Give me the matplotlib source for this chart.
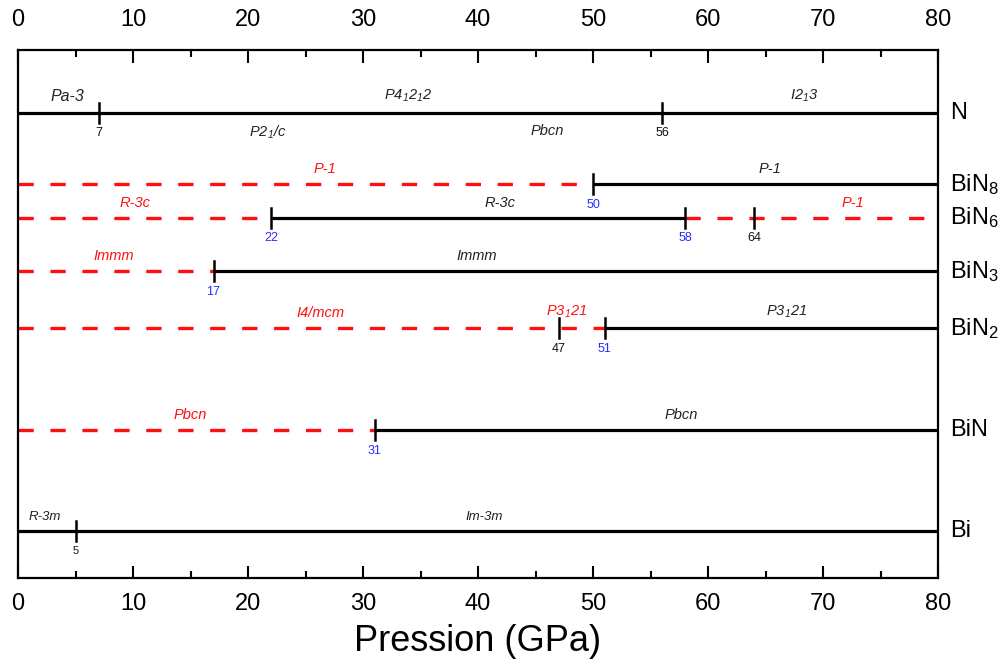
import matplotlib
matplotlib.use("Agg")
import matplotlib.pyplot as plt
from matplotlib.ticker import MultipleLocator

plt.rcParams['font.family'] = ['Liberation Sans', 'DejaVu Sans']
plt.rcParams['mathtext.fontset'] = 'custom'
plt.rcParams['mathtext.rm'] = 'Liberation Sans:italic'
plt.rcParams['mathtext.it'] = 'Liberation Sans:italic'
plt.rcParams['mathtext.sf'] = 'Liberation Sans'
plt.rcParams['lines.scale_dashes'] = False

# ---- data ----
compounds = ['N', r'BiN$_{\mathsf{8}}$', r'BiN$_{\mathsf{6}}$', r'BiN$_{\mathsf{3}}$',
             r'BiN$_{\mathsf{2}}$', 'BiN', 'Bi']
row_pos = [1.19, 2.54, 3.18, 4.19, 5.27, 7.20, 9.11]

# segments: row index, start, end, style ('d' dashed red, 's' solid black)
seg_row = [0, 1, 1, 2, 2, 2, 3, 3, 4, 4, 5, 5, 6]
seg_start = [0, 0, 50, 0, 22, 58, 0, 17, 0, 51, 0, 31, 0]
seg_end = [80, 50, 80, 22, 58, 80, 17, 80, 51, 80, 31, 80, 80]
seg_style = ['s', 'd', 's', 'd', 's', 'd', 'd', 's', 'd', 's', 'd', 's', 's']

# transition marks: row, pressure, label colour
tr_row = [0, 0, 1, 2, 2, 2, 3, 4, 4, 5, 6]
tr_p = [7, 56, 50, 22, 58, 64, 17, 47, 51, 31, 5]
tr_col = ['k', 'k', 'b', 'b', 'b', 'k', 'b', 'k', 'b', 'b', 'k']

# phase labels: row, x, text, colour, above(True)/below(False)
ph_row = [0, 0, 0, 0, 0, 1, 1, 2, 2, 2, 3, 3, 4, 4, 4, 5, 5, 6, 6]
ph_x = [4.3, 33.9, 68.4, 21.7, 46.0, 26.7, 65.4, 10.2, 41.9, 72.6, 8.3, 39.9,
        26.3, 47.7, 66.8, 15.0, 57.7, 2.3, 40.5]
ph_txt = ['Pa-3', r'$P4_12_12$', r'$I2_13$', r'$P2_1/c$', 'Pbcn',
          'P-1', 'P-1', 'R-3c', 'R-3c', 'P-1', 'Immm', 'Immm',
          'I4/mcm', r'$P3_121$', r'$P3_121$', 'Pbcn', 'Pbcn', 'R-3m', 'Im-3m']
ph_col = ['k', 'k', 'k', 'k', 'k', 'r', 'k', 'r', 'k', 'r', 'r', 'k',
          'r', 'r', 'k', 'r', 'k', 'k', 'k']
ph_above = [True, True, True, False, False, True, True, True, True, True, True, True,
            True, True, True, True, True, True, True]

xticks = [0, 10, 20, 30, 40, 50, 60, 70, 80]

RED = '#ff1010'
BLUE = '#2b2bff'

fig = plt.figure(figsize=(10.08, 6.66), dpi=100)
ax = fig.add_axes([18/1008, 88/666, 920/1008, 528/666])
ax.set_xlim(0, 80)
ax.set_ylim(10, 0)

for r, a, b, s in zip(seg_row, seg_start, seg_end, seg_style):
    y = row_pos[r]
    if s == 'd':
        ax.plot([a, b], [y, y], color=RED, lw=2.4, dashes=(11, 12),
                dash_capstyle='butt', zorder=2)
    else:
        ax.plot([a, b], [y, y], color='k', lw=2.3, solid_capstyle='butt', zorder=3)

for r, p, c in zip(tr_row, tr_p, tr_col):
    y = row_pos[r]
    ax.plot([p, p], [y - 0.19, y + 0.19], color='k', lw=1.8, zorder=4)
    ax.annotate(str(p), (p, y), xytext=(0, -10.5), textcoords='offset points',
                ha='center', va='top', fontsize=9 if r != 6 else 8,
                color=(BLUE if c == 'b' else '#111111'))

for r, x, t, c, above in zip(ph_row, ph_x, ph_txt, ph_col, ph_above):
    y = row_pos[r]
    fs = 10.5 if r != 6 else 9.5
    if r == 0 and t == 'Pa-3':
        fs = 11.5
    ax.annotate(t, (x, y), xytext=(0, 6 if above else -8), textcoords='offset points',
                ha='center', va='bottom' if above else 'top', fontsize=fs,
                color=(RED if c == 'r' else '#222222'), style='italic')

for name, y in zip(compounds, row_pos):
    ax.annotate(name, (1, y), xycoords=('axes fraction', 'data'), xytext=(9, 0),
                textcoords='offset points', ha='left', va='center', fontsize=17)

for sp in ax.spines.values():
    sp.set_linewidth(1.6)

ax.set_xticks(xticks)
ax.xaxis.set_minor_locator(MultipleLocator(5))
ax.set_yticks([])
ax.tick_params(axis='x', which='major', direction='in', length=9, width=1.5,
               top=True, bottom=True, labelsize=17, pad=11)
ax.tick_params(axis='x', which='minor', direction='in', length=5, width=1.5,
               top=True, bottom=True)

sec = ax.secondary_xaxis('top')
sec.set_xticks(xticks)
sec.tick_params(axis='x', which='both', length=0, labelsize=17, pad=14)
sec.spines['top'].set_visible(False)

ax.set_xlabel('Pression (GPa)', fontsize=26, labelpad=6)

fig.savefig('out.png', dpi=100)
